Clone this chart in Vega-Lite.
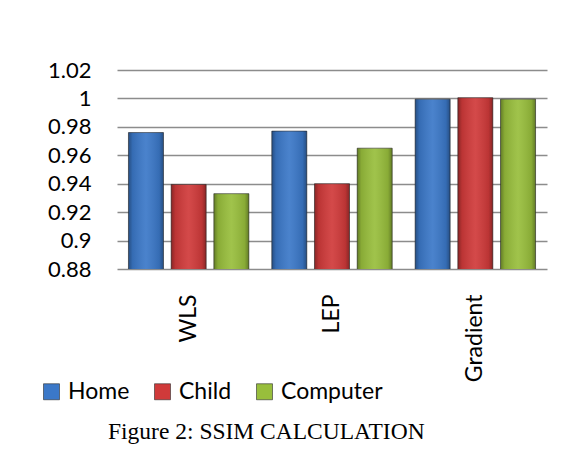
{
  "$schema": "https://vega.github.io/schema/vega-lite/v6.json",
  "autosize": "none",
  "width": 430,
  "height": 199,
  "padding": {"left": 117, "top": 70, "right": 24, "bottom": 189},
  "background": "white",
  "data": {
    "values": [
      {"method": "WLS", "series": "Home", "ssim": 0.976},
      {"method": "WLS", "series": "Child", "ssim": 0.9395},
      {"method": "WLS", "series": "Computer", "ssim": 0.933},
      {"method": "LEP", "series": "Home", "ssim": 0.977},
      {"method": "LEP", "series": "Child", "ssim": 0.94},
      {"method": "LEP", "series": "Computer", "ssim": 0.965},
      {"method": "Gradient", "series": "Home", "ssim": 0.9995},
      {"method": "Gradient", "series": "Child", "ssim": 1.0005},
      {"method": "Gradient", "series": "Computer", "ssim": 0.9995}
    ]
  },
  "title": {
    "text": "Figure 2: SSIM CALCULATION",
    "orient": "bottom",
    "anchor": "start",
    "font": "Liberation Serif",
    "fontSize": 23.5,
    "fontWeight": "normal",
    "color": "black",
    "offset": 16,
    "dx": 68
  },
  "encoding": {
    "x": {
      "field": "method",
      "type": "nominal",
      "sort": ["WLS", "LEP", "Gradient"],
      "scale": {"paddingInner": 0.16, "paddingOuter": 0.08},
      "axis": {
        "title": null,
        "labelAngle": -90,
        "labelFont": "Lato",
        "labelFontSize": 23,
        "labelColor": "black",
        "labelPadding": 25,
        "ticks": false,
        "domain": false
      }
    },
    "xOffset": {
      "field": "series",
      "type": "nominal",
      "sort": ["Home", "Child", "Computer"],
      "scale": {"paddingInner": 0.18, "paddingOuter": 0}
    },
    "y": {
      "field": "ssim",
      "type": "quantitative",
      "scale": {"domain": [0.88, 1.02], "zero": false, "nice": false},
      "axis": {
        "title": null,
        "values": [0.88, 0.9, 0.92, 0.94, 0.96, 0.98, 1, 1.02],
        "format": "~g",
        "labelFont": "Lato",
        "labelFontSize": 22,
        "labelColor": "black",
        "labelPadding": 26,
        "ticks": false,
        "domain": false,
        "grid": true,
        "gridColor": "#8c8c8c",
        "gridWidth": 1.5
      }
    }
  },
  "layer": [
    {
      "mark": {"type": "bar", "stroke": "#2b2b2b", "strokeWidth": 0.6, "clip": true},
      "encoding": {
        "color": {
          "field": "series",
          "type": "nominal",
          "sort": ["Home", "Child", "Computer"],
          "scale": {"range": ["#3b78c8", "#d03a3a", "#98be3c"]},
          "legend": {
            "title": null,
            "orient": "none",
            "legendX": -77,
            "legendY": 310,
            "direction": "horizontal",
            "symbolType": "square",
            "symbolSize": 256,
            "symbolStrokeWidth": 0.6,
            "symbolStrokeColor": "#2b2b2b",
            "labelFont": "Lato",
            "labelFontSize": 23,
            "labelColor": "black",
            "labelOffset": 5,
            "columnPadding": 21
          }
        }
      }
    },
    {
      "mark": {
        "type": "bar",
        "clip": true,
        "color": {
          "gradient": "linear",
          "x1": 0, "y1": 0, "x2": 1, "y2": 0,
          "stops": [
            {"offset": 0, "color": "rgba(0,0,0,0.35)"},
            {"offset": 0.12, "color": "rgba(0,0,0,0.1)"},
            {"offset": 0.5, "color": "rgba(255,255,255,0.08)"},
            {"offset": 0.88, "color": "rgba(0,0,0,0.1)"},
            {"offset": 1, "color": "rgba(0,0,0,0.35)"}
          ]
        }
      }
    }
  ],
  "config": {"view": {"stroke": null}}
}
